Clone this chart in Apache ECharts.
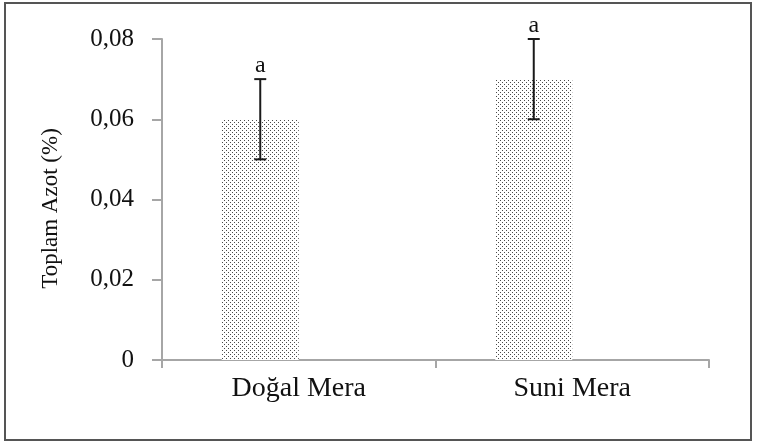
<!DOCTYPE html>
<html>
<head>
<meta charset="utf-8">
<script src="https://cdn.jsdelivr.net/npm/echarts@6/dist/echarts.min.js"></script>
<style>
html, body { margin: 0; padding: 0; background: #fff; }
#chart { position: absolute; left: 0; top: 0; width: 757px; height: 444px; }
.frame { position: absolute; left: 4px; top: 2px; width: 748px; height: 439px; border: 2px solid #555; box-sizing: border-box; pointer-events: none; }
</style>
</head>
<body>
<div id="chart"></div>
<div class="frame"></div>
<script>
// data
const categories = ['Doğal Mera', 'Suni Mera'];
const meanValues = [0.06, 0.07];
const errorValues = [0.01, 0.01];
const groupLetters = ['a', 'a'];
const yTickLabels = ['0', '0,02', '0,04', '0,06', '0,08'];

const BAR_WIDTH = 77;
const SERIF = '"Liberation Serif", "Times New Roman", serif';

// dotted fill like the excel pattern
function dotPattern() {
  const c = document.createElement('canvas');
  c.width = 4;
  c.height = 4;
  const ctx = c.getContext('2d');
  ctx.fillStyle = '#ffffff';
  ctx.fillRect(0, 0, 4, 4);
  ctx.fillStyle = '#4a4a4a';
  ctx.fillRect(0, 0, 1, 1);
  ctx.fillRect(2, 2, 1, 1);
  return c;
}

const errData = meanValues.map((v, i) => [i, v, errorValues[i]]);

const chart = echarts.init(document.getElementById('chart'));
chart.setOption({
  animation: false,
  grid: { left: 162, right: 48, top: 39, bottom: 84, containLabel: false },
  xAxis: {
    type: 'category',
    data: categories,
    axisLine: { show: true, lineStyle: { color: '#a6a6a6', width: 2 } },
    axisTick: { show: true, length: 8, alignWithLabel: false, lineStyle: { color: '#a6a6a6', width: 2 } },
    axisLabel: { fontFamily: SERIF, fontSize: 28, color: '#111', margin: 15 }
  },
  yAxis: {
    type: 'value',
    min: 0,
    max: 0.08,
    interval: 0.02,
    name: 'Toplam Azot (%)',
    nameLocation: 'middle',
    nameGap: 100,
    nameTextStyle: { fontFamily: SERIF, fontSize: 23, color: '#111', padding: [0, 18, 0, 0] },
    axisLine: { show: true, lineStyle: { color: '#a6a6a6', width: 2 } },
    axisTick: { show: true, length: 10, lineStyle: { color: '#a6a6a6', width: 2 } },
    axisLabel: {
      fontFamily: SERIF, fontSize: 25, color: '#111', margin: 28,
      formatter: (v, i) => yTickLabels[i]
    },
    splitLine: { show: false }
  },
  series: [
    {
      name: 'Toplam Azot',
      type: 'bar',
      barWidth: BAR_WIDTH,
      barGap: '0%',
      itemStyle: { color: { image: dotPattern(), repeat: 'repeat' } },
      data: meanValues
    },
    {
      // empty second series, keeps the bars shifted left like the original
      name: 'bos',
      type: 'bar',
      barWidth: BAR_WIDTH,
      barGap: '0%',
      data: meanValues.map(() => '-')
    },
    {
      name: 'hata',
      type: 'custom',
      data: errData,
      z: 5,
      renderItem: function (params, api) {
        const idx = api.value(0);
        const mean = api.value(1);
        const err = api.value(2);
        const top = api.coord([idx, mean + err]);
        const bot = api.coord([idx, mean - err]);
        const x = top[0] - BAR_WIDTH / 2;
        const cap = 6;
        const st = { stroke: '#1a1a1a', lineWidth: 2 };
        return {
          type: 'group',
          children: [
            { type: 'line', shape: { x1: x, y1: top[1], x2: x, y2: bot[1] }, style: st },
            { type: 'line', shape: { x1: x - cap, y1: top[1], x2: x + cap, y2: top[1] }, style: st },
            { type: 'line', shape: { x1: x - cap, y1: bot[1], x2: x + cap, y2: bot[1] }, style: st },
            {
              type: 'text',
              style: {
                text: groupLetters[params.dataIndex],
                x: x,
                y: top[1] - 1,
                align: 'center',
                verticalAlign: 'bottom',
                fontFamily: SERIF,
                fontSize: 24,
                fill: '#111'
              }
            }
          ]
        };
      }
    }
  ]
});
</script>
</body>
</html>
